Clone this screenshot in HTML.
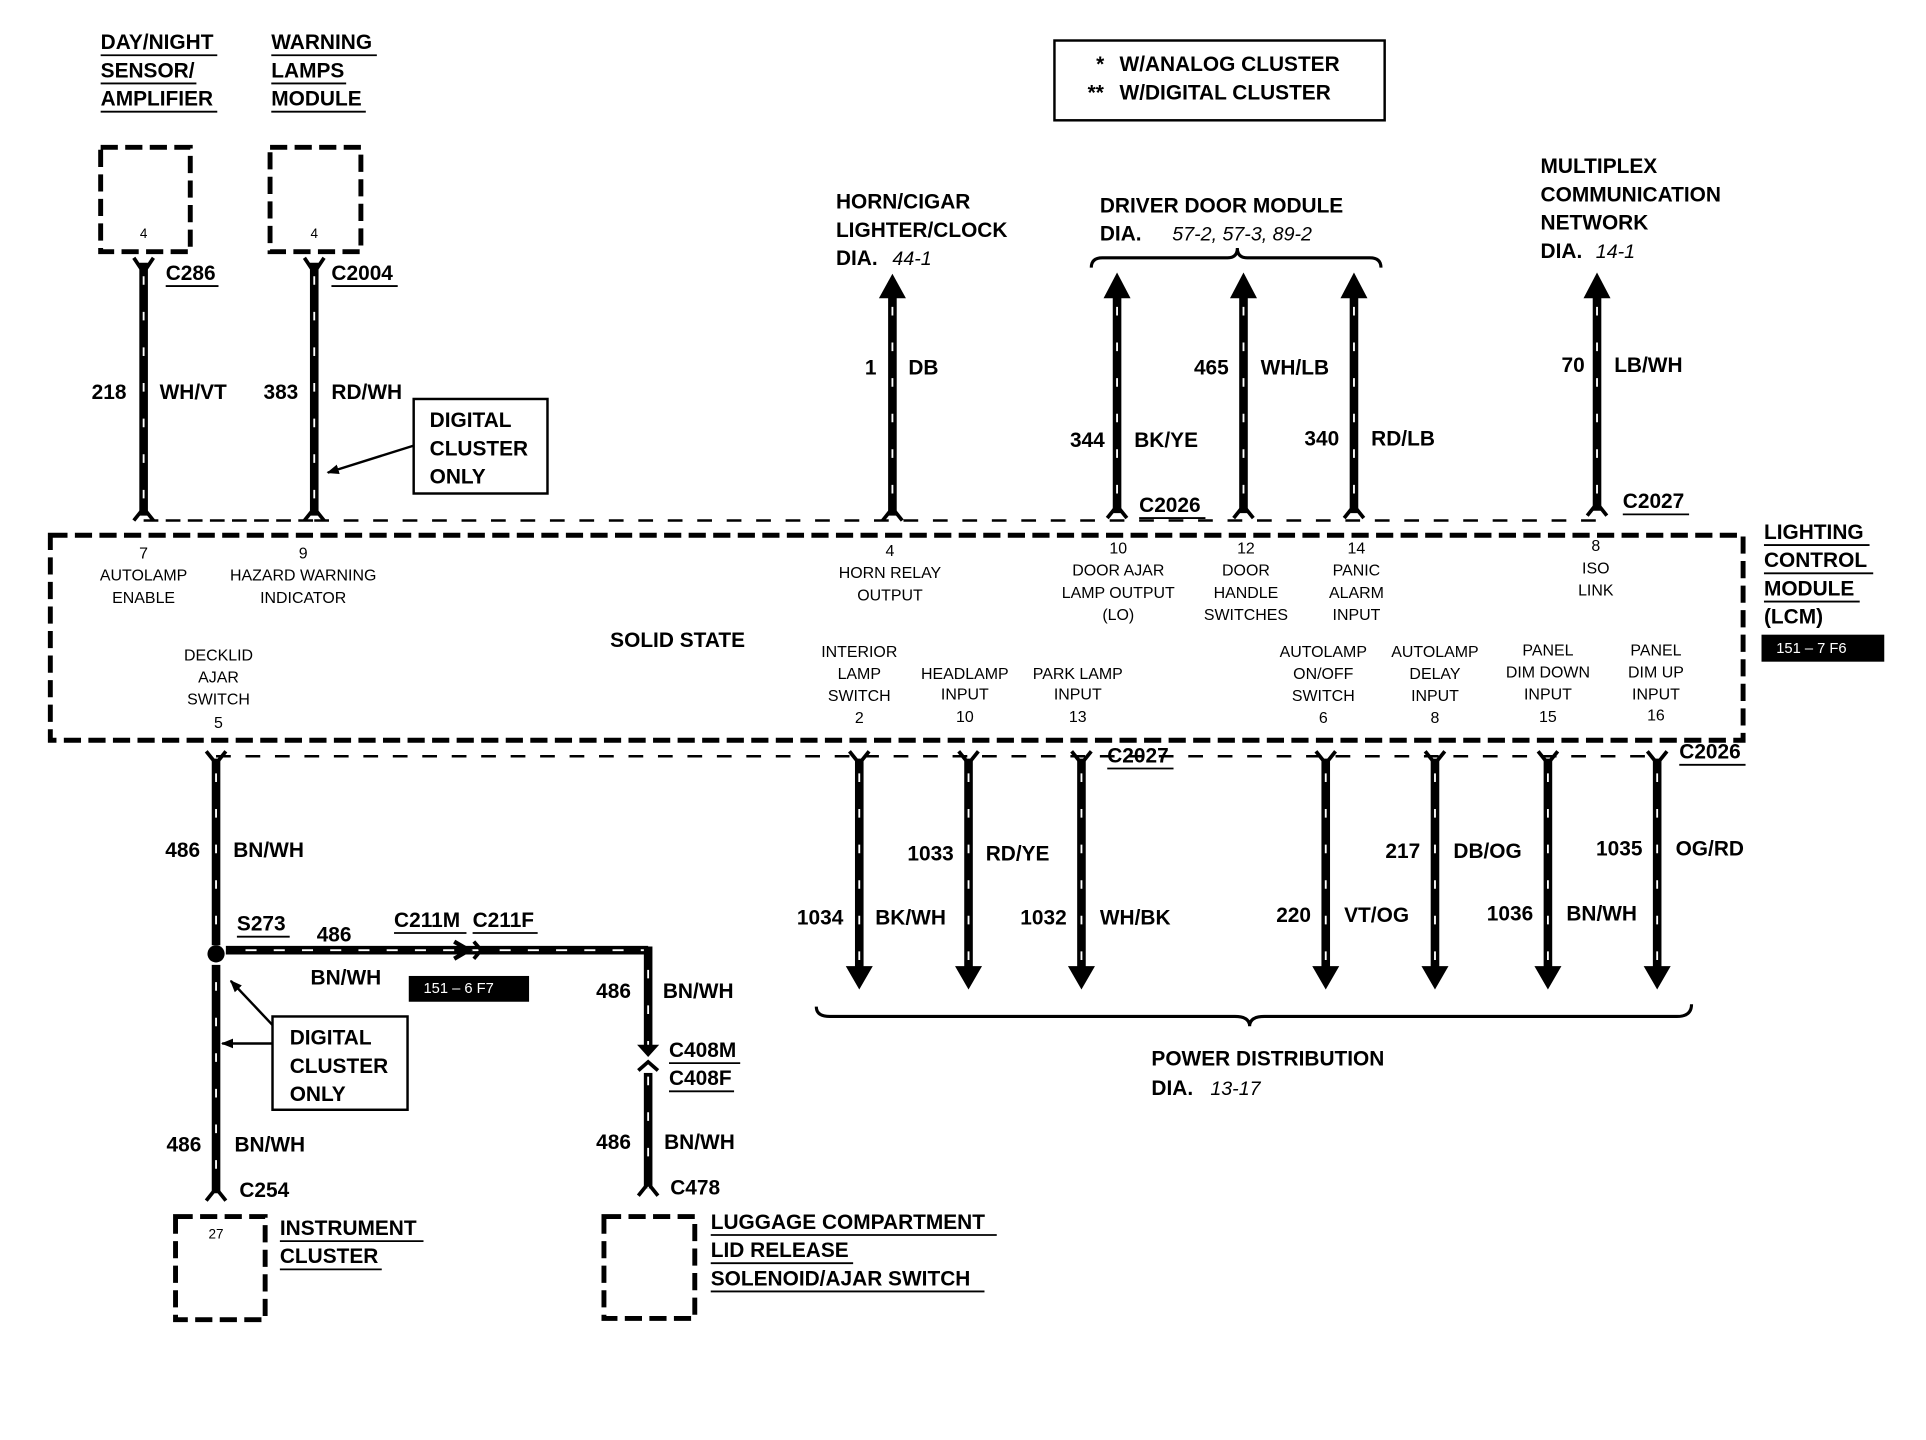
<!DOCTYPE html>
<html><head><meta charset="utf-8"><style>
html,body{margin:0;padding:0;background:#fff;}
svg{display:block;}
text{font-family:"Liberation Sans",Arial,sans-serif;font-weight:bold;fill:#000;}
.l{font-size:17px;}
.s{font-size:13px;font-weight:normal;}
.u{stroke:#000;stroke-width:1.5;}
.w{stroke:#000;stroke-width:7;fill:none;}
.d{stroke:#fff;stroke-width:1.5;stroke-dasharray:7 22;fill:none;}
.bx{fill:none;stroke:#000;stroke-width:4;stroke-dasharray:14 6;}
.cn{fill:none;stroke:#000;stroke-width:2;stroke-dasharray:12 6;}
.f{fill:none;stroke:#000;stroke-width:3;}
</style></head><body>
<svg width="1926" height="1440" viewBox="0 0 1569 1173" preserveAspectRatio="none" xmlns="http://www.w3.org/2000/svg">
<rect width="1569" height="1173" fill="#fff"/>
<defs>
<marker id="sa" markerWidth="10" markerHeight="10" refX="9" refY="5" orient="auto" markerUnits="userSpaceOnUse"><path d="M0,1 L10,5 L0,9 Z" fill="#000"/></marker>
</defs>

<text class="l" x="82" y="40">DAY/NIGHT</text><line class="u" x1="82" y1="45" x2="177" y2="45"/>
<text class="l" x="82" y="63">SENSOR/</text><line class="u" x1="82" y1="68" x2="160" y2="68"/>
<text class="l" x="82" y="86">AMPLIFIER</text><line class="u" x1="82" y1="91" x2="177" y2="91"/>
<text class="l" x="221" y="40">WARNING</text><line class="u" x1="221" y1="45" x2="307" y2="45"/>
<text class="l" x="221" y="63">LAMPS</text><line class="u" x1="221" y1="68" x2="282" y2="68"/>
<text class="l" x="221" y="86">MODULE</text><line class="u" x1="221" y1="91" x2="298" y2="91"/>
<rect class="bx" x="82" y="120" width="73" height="85"/>
<rect class="bx" x="220" y="120" width="74" height="85"/>
<text class="s" x="117" y="194" text-anchor="middle" style="font-size:11px">4</text>
<text class="s" x="256" y="194" text-anchor="middle" style="font-size:11px">4</text>

<line class="w" x1="117" y1="214" x2="117" y2="420"/><line class="d" x1="117" y1="225" x2="117" y2="420"/>
<path class="f" d="M109,210 L117,222 L125,210 M109,424 L117,414 L125,424"/>
<line class="w" x1="256" y1="214" x2="256" y2="420"/><line class="d" x1="256" y1="225" x2="256" y2="420"/>
<path class="f" d="M248,210 L256,222 L264,210 M248,424 L256,414 L264,424"/>
<text class="l" x="135" y="228">C286</text><line class="u" x1="135" y1="233" x2="178" y2="233"/>
<text class="l" x="270" y="228">C2004</text><line class="u" x1="270" y1="233" x2="324" y2="233"/>
<text class="l" x="103" y="325" text-anchor="end">218</text><text class="l" x="130" y="325">WH/VT</text>
<text class="l" x="243" y="325" text-anchor="end">383</text><text class="l" x="270" y="325">RD/WH</text>
<rect x="337" y="325" width="109" height="77" fill="none" stroke="#000" stroke-width="2"/>
<text class="l" x="350" y="348">DIGITAL</text><text class="l" x="350" y="371">CLUSTER</text><text class="l" x="350" y="394">ONLY</text>
<line x1="337" y1="363" x2="267" y2="385" stroke="#000" stroke-width="2" marker-end="url(#sa)"/>
<line class="cn" x1="117" y1="424" x2="256" y2="424"/>

<rect x="859" y="33" width="269" height="65" fill="none" stroke="#000" stroke-width="2"/>
<text class="l" x="893" y="58">*</text><text class="l" x="912" y="58">W/ANALOG CLUSTER</text>
<text class="l" x="886" y="81">**</text><text class="l" x="912" y="81">W/DIGITAL CLUSTER</text>

<text class="l" x="681" y="170">HORN/CIGAR</text><text class="l" x="681" y="193">LIGHTER/CLOCK</text>
<text class="l" x="681" y="216">DIA.</text><text class="l" x="727" y="216" style="font-style:italic;font-weight:normal;font-size:16px">44-1</text>
<line class="w" x1="727" y1="240" x2="727" y2="420"/><line class="d" x1="727" y1="250" x2="727" y2="420"/>
<path d="M716,243 L727,223 L738,243 Z"/>
<path class="f" d="M719,424 L727,414 L735,424"/>
<text class="l" x="714" y="305" text-anchor="end">1</text><text class="l" x="740" y="305">DB</text>

<text class="l" x="896" y="173">DRIVER DOOR MODULE</text>
<text class="l" x="896" y="196">DIA.</text><text class="l" x="955" y="196" style="font-style:italic;font-weight:normal;font-size:16px">57-2, 57-3, 89-2</text>
<path d="M889,218 Q889,210 898,210 L1000,210 Q1008,210 1008,202 Q1008,210 1016,210 L1116,210 Q1125,210 1125,218" fill="none" stroke="#000" stroke-width="2.5"/>
<line class="w" x1="910" y1="240" x2="910" y2="418"/><line class="d" x1="910" y1="250" x2="910" y2="418"/><path d="M899,243 L910,222 L921,243 Z"/><path class="f" d="M902,422 L910,412 L918,422"/>
<line class="w" x1="1013" y1="240" x2="1013" y2="418"/><line class="d" x1="1013" y1="250" x2="1013" y2="418"/><path d="M1002,243 L1013,222 L1024,243 Z"/><path class="f" d="M1005,422 L1013,412 L1021,422"/>
<line class="w" x1="1103" y1="240" x2="1103" y2="418"/><line class="d" x1="1103" y1="250" x2="1103" y2="418"/><path d="M1092,243 L1103,222 L1114,243 Z"/><path class="f" d="M1095,422 L1103,412 L1111,422"/>
<text class="l" x="900" y="364" text-anchor="end">344</text><text class="l" x="924" y="364">BK/YE</text>
<text class="l" x="1001" y="305" text-anchor="end">465</text><text class="l" x="1027" y="305">WH/LB</text>
<text class="l" x="1091" y="363" text-anchor="end">340</text><text class="l" x="1117" y="363">RD/LB</text>
<text class="l" x="928" y="417">C2026</text><line class="u" x1="928" y1="422" x2="982" y2="422"/>

<text class="l" x="1255" y="141">MULTIPLEX</text><text class="l" x="1255" y="164">COMMUNICATION</text><text class="l" x="1255" y="187">NETWORK</text>
<text class="l" x="1255" y="210">DIA.</text><text class="l" x="1300" y="210" style="font-style:italic;font-weight:normal;font-size:16px">14-1</text>
<line class="w" x1="1301" y1="240" x2="1301" y2="416"/><line class="d" x1="1301" y1="250" x2="1301" y2="416"/><path d="M1290,243 L1301,222 L1312,243 Z"/><path class="f" d="M1293,420 L1301,410 L1309,420"/>
<text class="l" x="1291" y="303" text-anchor="end">70</text><text class="l" x="1315" y="303">LB/WH</text>
<text class="l" x="1322" y="414">C2027</text><line class="u" x1="1322" y1="419" x2="1376" y2="419"/>
<line class="cn" x1="256" y1="424" x2="1301" y2="424" style="stroke-dasharray:12 12"/>

<rect class="bx" x="41" y="436" width="1379" height="167"/>
<text class="l" x="1437" y="439">LIGHTING</text><line class="u" x1="1437" y1="444" x2="1523" y2="444"/>
<text class="l" x="1437" y="462">CONTROL</text><line class="u" x1="1437" y1="467" x2="1526" y2="467"/>
<text class="l" x="1437" y="485">MODULE</text><line class="u" x1="1437" y1="490" x2="1515" y2="490"/>
<text class="l" x="1437" y="508">(LCM)</text>
<rect x="1435" y="517" width="100" height="22" fill="#000"/>
<text x="1447" y="532" style="fill:#fff;font-size:12px;font-weight:normal">151 – 7 F6</text>

<g text-anchor="middle">
<text class="s" x="117" y="455">7</text><text class="s" x="117" y="473">AUTOLAMP</text><text class="s" x="117" y="491">ENABLE</text>
<text class="s" x="247" y="455">9</text><text class="s" x="247" y="473">HAZARD WARNING</text><text class="s" x="247" y="491">INDICATOR</text>
<text class="s" x="725" y="453">4</text><text class="s" x="725" y="471">HORN RELAY</text><text class="s" x="725" y="489">OUTPUT</text>
<text class="s" x="911" y="451">10</text><text class="s" x="911" y="469">DOOR AJAR</text><text class="s" x="911" y="487">LAMP OUTPUT</text><text class="s" x="911" y="505">(LO)</text>
<text class="s" x="1015" y="451">12</text><text class="s" x="1015" y="469">DOOR</text><text class="s" x="1015" y="487">HANDLE</text><text class="s" x="1015" y="505">SWITCHES</text>
<text class="s" x="1105" y="451">14</text><text class="s" x="1105" y="469">PANIC</text><text class="s" x="1105" y="487">ALARM</text><text class="s" x="1105" y="505">INPUT</text>
<text class="s" x="1300" y="449">8</text><text class="s" x="1300" y="467">ISO</text><text class="s" x="1300" y="485">LINK</text>
<text class="s" x="178" y="538">DECKLID</text><text class="s" x="178" y="556">AJAR</text><text class="s" x="178" y="574">SWITCH</text><text class="s" x="178" y="593">5</text>
<text class="s" x="700" y="535">INTERIOR</text><text class="s" x="700" y="553">LAMP</text><text class="s" x="700" y="571">SWITCH</text><text class="s" x="700" y="589">2</text>
<text class="s" x="786" y="553">HEADLAMP</text><text class="s" x="786" y="570">INPUT</text><text class="s" x="786" y="588">10</text>
<text class="s" x="878" y="553">PARK LAMP</text><text class="s" x="878" y="570">INPUT</text><text class="s" x="878" y="588">13</text>
<text class="s" x="1078" y="535">AUTOLAMP</text><text class="s" x="1078" y="553">ON/OFF</text><text class="s" x="1078" y="571">SWITCH</text><text class="s" x="1078" y="589">6</text>
<text class="s" x="1169" y="535">AUTOLAMP</text><text class="s" x="1169" y="553">DELAY</text><text class="s" x="1169" y="571">INPUT</text><text class="s" x="1169" y="589">8</text>
<text class="s" x="1261" y="534">PANEL</text><text class="s" x="1261" y="552">DIM DOWN</text><text class="s" x="1261" y="570">INPUT</text><text class="s" x="1261" y="588">15</text>
<text class="s" x="1349" y="534">PANEL</text><text class="s" x="1349" y="552">DIM UP</text><text class="s" x="1349" y="570">INPUT</text><text class="s" x="1349" y="587">16</text>
</g>
<text class="l" x="552" y="527" text-anchor="middle">SOLID STATE</text>

<line class="cn" x1="176" y1="616" x2="1350" y2="616" style="stroke-dasharray:12 12"/>
<line class="w" x1="700" y1="618" x2="700" y2="790"/><line class="d" x1="700" y1="630" x2="700" y2="790"/><path d="M689,787 L700,806 L711,787 Z"/><path class="f" d="M692,612 L700,622 L708,612"/>
<line class="w" x1="789" y1="618" x2="789" y2="790"/><line class="d" x1="789" y1="630" x2="789" y2="790"/><path d="M778,787 L789,806 L800,787 Z"/><path class="f" d="M781,612 L789,622 L797,612"/>
<line class="w" x1="881" y1="618" x2="881" y2="790"/><line class="d" x1="881" y1="630" x2="881" y2="790"/><path d="M870,787 L881,806 L892,787 Z"/><path class="f" d="M873,612 L881,622 L889,612"/>
<line class="w" x1="1080" y1="618" x2="1080" y2="790"/><line class="d" x1="1080" y1="630" x2="1080" y2="790"/><path d="M1069,787 L1080,806 L1091,787 Z"/><path class="f" d="M1072,612 L1080,622 L1088,612"/>
<line class="w" x1="1169" y1="618" x2="1169" y2="790"/><line class="d" x1="1169" y1="630" x2="1169" y2="790"/><path d="M1158,787 L1169,806 L1180,787 Z"/><path class="f" d="M1161,612 L1169,622 L1177,612"/>
<line class="w" x1="1261" y1="618" x2="1261" y2="790"/><line class="d" x1="1261" y1="630" x2="1261" y2="790"/><path d="M1250,787 L1261,806 L1272,787 Z"/><path class="f" d="M1253,612 L1261,622 L1269,612"/>
<line class="w" x1="1350" y1="618" x2="1350" y2="790"/><line class="d" x1="1350" y1="630" x2="1350" y2="790"/><path d="M1339,787 L1350,806 L1361,787 Z"/><path class="f" d="M1342,612 L1350,622 L1358,612"/>
<text class="l" x="902" y="621">C2027</text><line class="u" x1="902" y1="626" x2="956" y2="626"/>
<text class="l" x="1368" y="618">C2026</text><line class="u" x1="1368" y1="623" x2="1422" y2="623"/>
<text class="l" x="687" y="753" text-anchor="end">1034</text><text class="l" x="713" y="753">BK/WH</text>
<text class="l" x="777" y="701" text-anchor="end">1033</text><text class="l" x="803" y="701">RD/YE</text>
<text class="l" x="869" y="753" text-anchor="end">1032</text><text class="l" x="896" y="753">WH/BK</text>
<text class="l" x="1068" y="751" text-anchor="end">220</text><text class="l" x="1095" y="751">VT/OG</text>
<text class="l" x="1157" y="699" text-anchor="end">217</text><text class="l" x="1184" y="699">DB/OG</text>
<text class="l" x="1249" y="750" text-anchor="end">1036</text><text class="l" x="1276" y="750">BN/WH</text>
<text class="l" x="1338" y="697" text-anchor="end">1035</text><text class="l" x="1365" y="697">OG/RD</text>
<path d="M665,820 Q665,828 676,828 L1006,828 Q1018,828 1018,836 Q1018,828 1030,828 L1366,828 Q1378,828 1378,818" fill="none" stroke="#000" stroke-width="2.5"/>
<text class="l" x="938" y="868">POWER DISTRIBUTION</text>
<text class="l" x="938" y="892">DIA.</text><text class="l" x="986" y="892" style="font-style:italic;font-weight:normal;font-size:16px">13-17</text>

<line class="w" x1="176" y1="618" x2="176" y2="770"/><line class="d" x1="176" y1="630" x2="176" y2="770"/>
<path class="f" d="M168,612 L176,622 L184,612"/>
<text class="l" x="163" y="698" text-anchor="end">486</text><text class="l" x="190" y="698">BN/WH</text>
<circle cx="176" cy="777" r="7"/>
<line class="w" x1="176" y1="786" x2="176" y2="972"/><line class="d" x1="176" y1="800" x2="176" y2="972"/>
<path class="f" d="M168,978 L176,968 L184,978"/>
<text class="l" x="193" y="758">S273</text><line class="u" x1="193" y1="763" x2="236" y2="763"/>
<line class="w" x1="184" y1="774" x2="528" y2="774"/><line class="d" x1="200" y1="774" x2="525" y2="774" style="stroke-dasharray:9 14"/>
<line class="w" x1="528" y1="771" x2="528" y2="968"/><line class="d" x1="528" y1="790" x2="528" y2="968"/>
<path d="M370,767 L382,774 L370,781" fill="none" stroke="#000" stroke-width="3.5"/>
<path d="M386,767 L392,774 L386,781" fill="none" stroke="#000" stroke-width="3"/>
<rect x="524" y="852" width="8" height="22" fill="#fff"/>
<path d="M519,851 L528,861 L537,851 Z"/>
<path d="M520,872 L528,865 L536,872" fill="none" stroke="#000" stroke-width="3"/>
<path class="f" d="M520,974 L528,964 L536,974"/>
<text class="l" x="258" y="767">486</text>
<text class="l" x="321" y="755">C211M</text><line class="u" x1="321" y1="760" x2="380" y2="760"/>
<text class="l" x="385" y="755">C211F</text><line class="u" x1="385" y1="760" x2="438" y2="760"/>
<text class="l" x="253" y="802">BN/WH</text>
<rect x="333" y="795" width="98" height="21" fill="#000"/>
<text x="345" y="809" style="fill:#fff;font-size:12px;font-weight:normal">151 – 6 F7</text>
<text class="l" x="514" y="813" text-anchor="end">486</text><text class="l" x="540" y="813">BN/WH</text>
<text class="l" x="545" y="861">C408M</text><line class="u" x1="545" y1="866" x2="603" y2="866"/>
<text class="l" x="545" y="884">C408F</text><line class="u" x1="545" y1="889" x2="598" y2="889"/>
<text class="l" x="514" y="936" text-anchor="end">486</text><text class="l" x="541" y="936">BN/WH</text>
<text class="l" x="546" y="973">C478</text>
<text class="l" x="195" y="975">C254</text>
<text class="l" x="164" y="938" text-anchor="end">486</text><text class="l" x="191" y="938">BN/WH</text>
<rect x="222" y="828" width="110" height="76" fill="none" stroke="#000" stroke-width="2"/>
<text class="l" x="236" y="851">DIGITAL</text><text class="l" x="236" y="874">CLUSTER</text><text class="l" x="236" y="897">ONLY</text>
<line x1="222" y1="835" x2="188" y2="799" stroke="#000" stroke-width="2" marker-end="url(#sa)"/>
<line x1="222" y1="850" x2="181" y2="850" stroke="#000" stroke-width="2" marker-end="url(#sa)"/>

<rect class="bx" x="143" y="991" width="73" height="84"/>
<text class="s" x="176" y="1009" text-anchor="middle" style="font-size:11px">27</text>
<text class="l" x="228" y="1006">INSTRUMENT</text><line class="u" x1="228" y1="1011" x2="345" y2="1011"/>
<text class="l" x="228" y="1029">CLUSTER</text><line class="u" x1="228" y1="1034" x2="311" y2="1034"/>
<rect class="bx" x="492" y="991" width="74" height="83"/>
<text class="l" x="579" y="1001">LUGGAGE COMPARTMENT</text><line class="u" x1="579" y1="1006" x2="812" y2="1006"/>
<text class="l" x="579" y="1024">LID RELEASE</text><line class="u" x1="579" y1="1029" x2="695" y2="1029"/>
<text class="l" x="579" y="1047">SOLENOID/AJAR SWITCH</text><line class="u" x1="579" y1="1052" x2="802" y2="1052"/>
</svg>
</body></html>
